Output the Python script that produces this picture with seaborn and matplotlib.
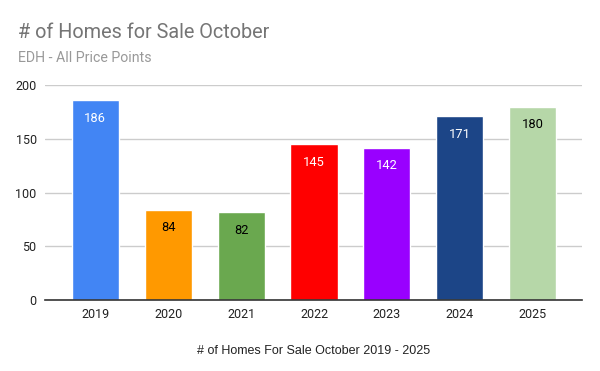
import matplotlib
matplotlib.use("Agg")
import matplotlib.pyplot as plt
import seaborn as sns
import pandas as pd

years = ["2019", "2020", "2021", "2022", "2023", "2024", "2025"]
homes = [186, 84, 82, 145, 142, 171, 180]
colors = ["#4285F4", "#FF9900", "#6AA84F", "#FF0000", "#9900FF", "#1C4587", "#B6D7A8"]
label_colors = ["white", "black", "black", "white", "white", "white", "black"]
yticks = [0, 50, 100, 150, 200]

sns.set_theme(style="white")
plt.rcParams['font.family'] = ['Roboto', 'DejaVu Sans']

df = pd.DataFrame({"year": years, "homes": homes})

fig = plt.figure(figsize=(6, 3.71), dpi=100)
ax = fig.add_axes([0.075, 0.1914, 0.895, 0.5786])
sns.barplot(data=df, x="year", y="homes", hue="year", palette=colors, legend=False,
            width=0.645, ax=ax, saturation=1)

ax.set_ylim(0, 200)
ax.set_xlim(-0.69, 6.676)
ax.set_yticks(yticks)
ax.yaxis.grid(True, color="#cccccc", linewidth=1)
ax.set_axisbelow(True)
for s in ["top", "right", "left"]:
    ax.spines[s].set_visible(False)
ax.spines["bottom"].set_color("#333333")
ax.spines["bottom"].set_linewidth(1.2)
ax.tick_params(axis="both", length=0, labelsize=9, colors="#222222")
ax.tick_params(axis="y", pad=6)
ax.tick_params(axis="x", pad=6)

for i, (v, c) in enumerate(zip(homes, label_colors)):
    ax.annotate(str(v), (i, v), xytext=(0, -13), textcoords="offset points",
                ha="center", va="center", fontsize=9.3, color=c)

ax.set_ylabel("")
ax.set_xlabel("# of Homes For Sale October 2019 - 2025", fontsize=9,
              family=["Liberation Sans", "DejaVu Sans"], color="#222222", labelpad=17)

fig.text(18/600, 1 - 32/371, "# of Homes for Sale October", fontsize=14.3,
         color="#757575", ha="left", va="center")
fig.text(18/600, 1 - 58/371, "EDH - All Price Points", fontsize=10.2,
         color="#999999", ha="left", va="center")

fig.savefig("out.png", dpi=100)
